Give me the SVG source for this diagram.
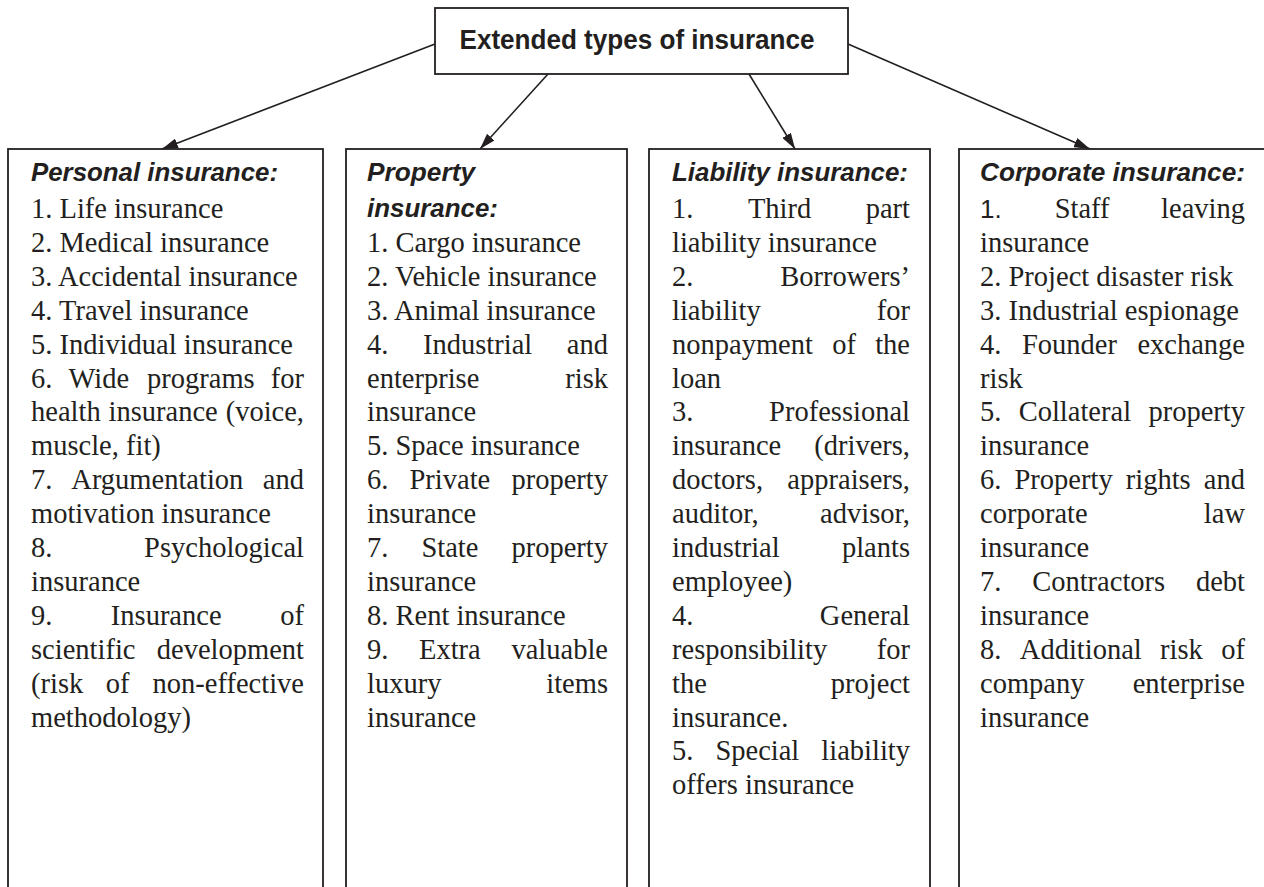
<svg xmlns="http://www.w3.org/2000/svg" width="1264" height="887" viewBox="0 0 1264 887">
<defs>
<style>
.box{fill:#fff;stroke:#231f20;stroke-width:1.8}
.t{font-family:"Liberation Serif","Times New Roman",serif;font-size:28.5px;fill:#231f20}
.e{text-anchor:end}
.h{font-family:"Liberation Sans",Arial,sans-serif;font-size:26px;font-weight:bold;font-style:italic;fill:#231f20}
.s{font-family:"Liberation Sans",Arial,sans-serif;font-size:26px}
.title{font-family:"Liberation Sans",Arial,sans-serif;font-size:28px;font-weight:bold;fill:#231f20;text-anchor:middle}
.c{fill:none;stroke:#231f20;stroke-width:1.6}
</style>
<marker id="ah" viewBox="0 0 16 10" refX="16" refY="5" markerWidth="16" markerHeight="10" markerUnits="userSpaceOnUse" orient="auto">
<path d="M0,0 L16,5 L0,10 z" fill="#231f20"/>
</marker>
</defs>
<rect width="1264" height="887" fill="#fff"/>

<g id="connectors">
<line class="c" x1="435" y1="44" x2="162" y2="149" marker-end="url(#ah)"/>
<line class="c" x1="548" y1="74" x2="480" y2="149" marker-end="url(#ah)"/>
<line class="c" x1="749" y1="74" x2="795" y2="149" marker-end="url(#ah)"/>
<line class="c" x1="848" y1="44" x2="1090" y2="149" marker-end="url(#ah)"/>
</g>

<g id="root">
<rect class="box" x="435" y="8" width="413" height="66"/>
<text class="title" x="637" y="49" textLength="355" lengthAdjust="spacingAndGlyphs">Extended types of insurance</text>
</g>

<g id="personal">
<rect class="box" x="8" y="149" width="315" height="760"/>
<text class="h" x="31" y="181" textLength="247" lengthAdjust="spacingAndGlyphs">Personal insurance:</text>
<text class="t" x="31" y="218">1. Life insurance</text>
<text class="t" x="31" y="252">2. Medical insurance</text>
<text class="t" x="31" y="286">3. Accidental insurance</text>
<text class="t" x="31" y="320">4. Travel insurance</text>
<text class="t" x="31" y="354">5. Individual insurance</text>
<text class="t" y="388"><tspan x="31">6.</tspan><tspan x="68.5">Wide</tspan><tspan x="147">programs</tspan><tspan x="304" class="e">for</tspan></text>
<text class="t" y="421"><tspan x="31">health</tspan><tspan x="108.5">insurance</tspan><tspan x="304" class="e">(voice,</tspan></text>
<text class="t" x="31" y="455">muscle, fit)</text>
<text class="t" y="489"><tspan x="31">7.</tspan><tspan x="71.3">Argumentation</tspan><tspan x="304" class="e">and</tspan></text>
<text class="t" x="31" y="523">motivation insurance</text>
<text class="t" y="557"><tspan x="31">8.</tspan><tspan x="304" class="e">Psychological</tspan></text>
<text class="t" x="31" y="591">insurance</text>
<text class="t" y="625"><tspan x="31">9.</tspan><tspan x="110.8">Insurance</tspan><tspan x="304" class="e">of</tspan></text>
<text class="t" y="659"><tspan x="31">scientific</tspan><tspan x="304" class="e">development</tspan></text>
<text class="t" y="693"><tspan x="31">(risk</tspan><tspan x="105.8">of</tspan><tspan x="304" class="e">non-effective</tspan></text>
<text class="t" x="31" y="727">methodology)</text>
</g>

<g id="property">
<rect class="box" x="346" y="149" width="281" height="760"/>
<text class="h" x="367" y="181" textLength="108" lengthAdjust="spacingAndGlyphs">Property</text>
<text class="h" x="367" y="217" textLength="131" lengthAdjust="spacingAndGlyphs">insurance:</text>
<text class="t" x="367" y="252">1. Cargo insurance</text>
<text class="t" x="367" y="286">2. Vehicle insurance</text>
<text class="t" x="367" y="320">3. Animal insurance</text>
<text class="t" y="354"><tspan x="367">4.</tspan><tspan x="423">Industrial</tspan><tspan x="608" class="e">and</tspan></text>
<text class="t" y="388"><tspan x="367">enterprise</tspan><tspan x="608" class="e">risk</tspan></text>
<text class="t" x="367" y="421">insurance</text>
<text class="t" x="367" y="455">5. Space insurance</text>
<text class="t" y="489"><tspan x="367">6.</tspan><tspan x="409.5">Private</tspan><tspan x="608" class="e">property</tspan></text>
<text class="t" x="367" y="523">insurance</text>
<text class="t" y="557"><tspan x="367">7.</tspan><tspan x="421.4">State</tspan><tspan x="608" class="e">property</tspan></text>
<text class="t" x="367" y="591">insurance</text>
<text class="t" x="367" y="625">8. Rent insurance</text>
<text class="t" y="659"><tspan x="367">9.</tspan><tspan x="419">Extra</tspan><tspan x="608" class="e">valuable</tspan></text>
<text class="t" y="693"><tspan x="367">luxury</tspan><tspan x="608" class="e">items</tspan></text>
<text class="t" x="367" y="727">insurance</text>
</g>

<g id="liability">
<rect class="box" x="649" y="149" width="281" height="760"/>
<text class="h" x="672" y="181" textLength="236" lengthAdjust="spacingAndGlyphs">Liability insurance:</text>
<text class="t" y="218"><tspan x="672">1.</tspan><tspan x="747.9">Third</tspan><tspan x="910" class="e">part</tspan></text>
<text class="t" x="672" y="252">liability insurance</text>
<text class="t" y="286"><tspan x="672">2.</tspan><tspan x="910" class="e">Borrowers’</tspan></text>
<text class="t" y="320"><tspan x="672">liability</tspan><tspan x="910" class="e">for</tspan></text>
<text class="t" y="354"><tspan x="672">nonpayment</tspan><tspan x="832.2">of</tspan><tspan x="910" class="e">the</tspan></text>
<text class="t" x="672" y="388">loan</text>
<text class="t" y="421"><tspan x="672">3.</tspan><tspan x="910" class="e">Professional</tspan></text>
<text class="t" y="455"><tspan x="672">insurance</tspan><tspan x="910" class="e">(drivers,</tspan></text>
<text class="t" y="489"><tspan x="672">doctors,</tspan><tspan x="910" class="e">appraisers,</tspan></text>
<text class="t" y="523"><tspan x="672">auditor,</tspan><tspan x="910" class="e">advisor,</tspan></text>
<text class="t" y="557"><tspan x="672">industrial</tspan><tspan x="910" class="e">plants</tspan></text>
<text class="t" x="672" y="591">employee)</text>
<text class="t" y="625"><tspan x="672">4.</tspan><tspan x="910" class="e">General</tspan></text>
<text class="t" y="659"><tspan x="672">responsibility</tspan><tspan x="910" class="e">for</tspan></text>
<text class="t" y="693"><tspan x="672">the</tspan><tspan x="910" class="e">project</tspan></text>
<text class="t" x="672" y="727">insurance.</text>
<text class="t" y="760"><tspan x="672">5.</tspan><tspan x="715.4">Special</tspan><tspan x="910" class="e">liability</tspan></text>
<text class="t" x="672" y="794">offers insurance</text>
</g>

<g id="corporate">
<rect class="box" x="959" y="149" width="330" height="760"/>
<text class="h" x="980" y="181" textLength="265" lengthAdjust="spacingAndGlyphs">Corporate insurance:</text>
<text class="t" y="218"><tspan x="980" class="s">1.</tspan><tspan x="1054.7">Staff</tspan><tspan x="1245" class="e">leaving</tspan></text>
<text class="t" x="980" y="252">insurance</text>
<text class="t" x="980" y="286">2. Project disaster risk</text>
<text class="t" x="980" y="320">3. Industrial espionage</text>
<text class="t" y="354"><tspan x="980">4.</tspan><tspan x="1021.9">Founder</tspan><tspan x="1245" class="e">exchange</tspan></text>
<text class="t" x="980" y="388">risk</text>
<text class="t" y="421"><tspan x="980">5.</tspan><tspan x="1018.7">Collateral</tspan><tspan x="1245" class="e">property</tspan></text>
<text class="t" x="980" y="455">insurance</text>
<text class="t" y="489"><tspan x="980">6.</tspan><tspan x="1014.5">Property</tspan><tspan x="1125.8">rights</tspan><tspan x="1245" class="e">and</tspan></text>
<text class="t" y="523"><tspan x="980">corporate</tspan><tspan x="1245" class="e">law</tspan></text>
<text class="t" x="980" y="557">insurance</text>
<text class="t" y="591"><tspan x="980">7.</tspan><tspan x="1032.2">Contractors</tspan><tspan x="1245" class="e">debt</tspan></text>
<text class="t" x="980" y="625">insurance</text>
<text class="t" y="659"><tspan x="980">8.</tspan><tspan x="1019.8">Additional</tspan><tspan x="1160.1">risk</tspan><tspan x="1245" class="e">of</tspan></text>
<text class="t" y="693"><tspan x="980">company</tspan><tspan x="1245" class="e">enterprise</tspan></text>
<text class="t" x="980" y="727">insurance</text>
</g>
</svg>
